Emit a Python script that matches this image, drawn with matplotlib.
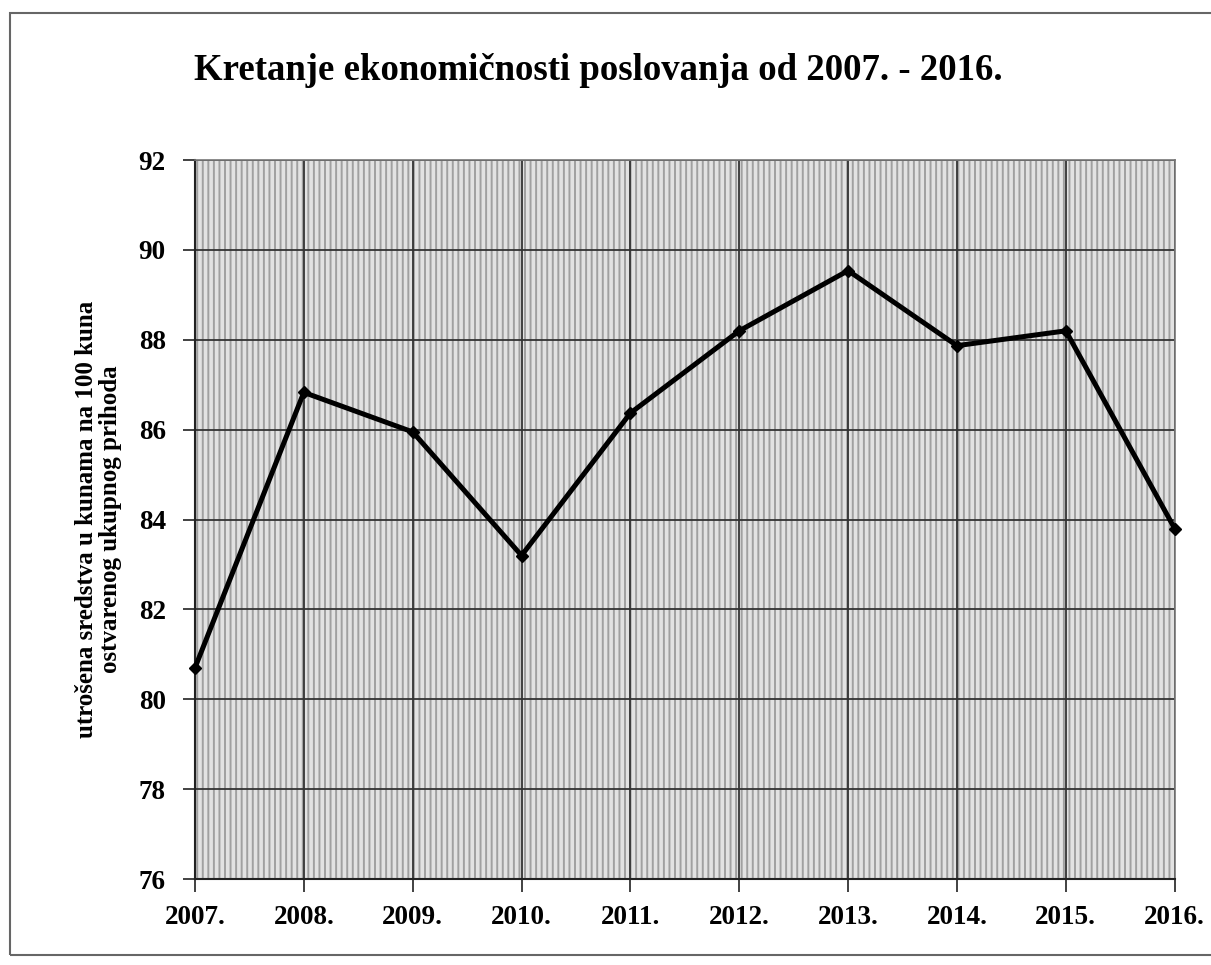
import numpy as np
import matplotlib.pyplot as plt
from matplotlib.patches import Rectangle

# data
years = ['2007.', '2008.', '2009.', '2010.', '2011.', '2012.', '2013.', '2014.', '2015.', '2016.']
values = [80.7, 86.83, 85.95, 83.2, 86.37, 88.2, 89.54, 87.87, 88.2, 83.8]
yticks = [76, 78, 80, 82, 84, 86, 88, 90, 92]

title = 'Kretanje ekonomičnosti poslovanja od 2007. - 2016.'
ylabel = 'utrošena sredstva u kunama na 100 kuna\nostvarenog ukupnog prihoda'

plt.rcParams['font.family'] = ['Liberation Serif', 'DejaVu Serif']
plt.rcParams['hatch.linewidth'] = 1.4
plt.rcParams['hatch.color'] = '#a0a0a0'

fig = plt.figure(figsize=(12.11, 9.65), dpi=100)
ax = fig.add_axes([0.161, 0.0891, 0.809, 0.745])

x = np.arange(len(years))

# patterned background of the plot area
bg = Rectangle((0, 0), 1, 1, transform=ax.transAxes, facecolor='#e2e2e2',
               hatch='|||', edgecolor='#a0a0a0', linewidth=0, zorder=0)
ax.add_patch(bg)
ax.set_facecolor('#e2e2e2')

ax.plot(x, values, color='black', linewidth=3.6, marker='D', markersize=6,
        zorder=5, clip_on=False)

ax.set_xlim(0, len(years) - 1)
ax.set_ylim(76, 92)
ax.set_xticks(x)
ax.set_xticklabels(years)
ax.set_yticks(yticks)

ax.grid(True, color='#333333', linewidth=1.3)
ax.set_axisbelow(True)

ax.tick_params(axis='both', direction='out', length=9, width=1.3, color='#333333')
ax.tick_params(axis='x', pad=10, labelsize=19.5)
ax.tick_params(axis='y', pad=12, labelsize=19.5)
for lab in ax.get_xticklabels() + ax.get_yticklabels():
    lab.set_fontweight('bold')

for side in ['left', 'bottom']:
    ax.spines[side].set_color('#222222')
    ax.spines[side].set_linewidth(1.5)
for side in ['top', 'right']:
    ax.spines[side].set_color('#777777')
    ax.spines[side].set_linewidth(1.2)

fig.text(0.494, 0.927, title, ha='center', va='center', fontsize=26.5, fontweight='bold')
fig.text(0.081, 0.462, ylabel, ha='center', va='center', rotation=90,
         fontsize=18, fontweight='bold', linespacing=1.05)

# outer chart frame
frame = Rectangle((0.008, 0.01), 1.1, 0.977, transform=fig.transFigure,
                  fill=False, edgecolor='#666666', linewidth=1.5, clip_on=False)
fig.patches.append(frame)

plt.savefig('out.png', dpi=100)
